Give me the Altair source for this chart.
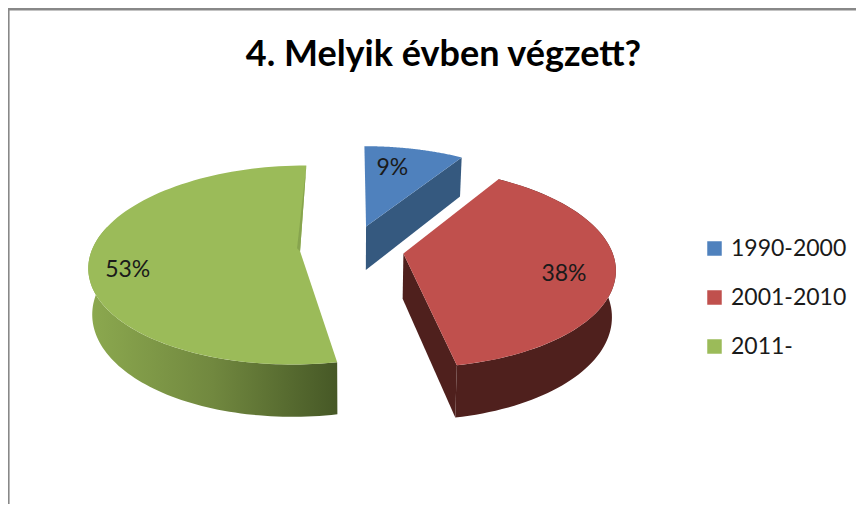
import altair as alt
import numpy as np

categories = ["1990-2000", "2001-2010", "2011-"]
shares = [9, 38, 53]
labels = ["9%", "38%", "53%"]
top_colors = ["#4F81BD", "#C0504D", "#9BBB59"]

# label placement inside each slice: angle (deg clockwise from 12 o'clock), radius fraction
label_theta = [12, 105.4, 256.6]
label_radius = [0.72, 0.766, 0.82]

# tilted-disc view of the exploded pie
X0, Y0 = 344.0, 241.0
A, B, P = 208.0, 97.0, 0.137
EXPLODE, DEPTH, SHRINK = 0.25, 45.0, 0.985


def view(X, Y, low=False):
    d = 1 + P * Y
    sx = A * X / d
    sy = -B * Y / d
    if low:
        sx *= SHRINK
        sy += DEPTH / d
    return [float(X0 + sx), float(Y0 + sy)]


def polar(t, r=1.0):
    return r * np.sin(np.radians(t)), r * np.cos(np.radians(t))


def feature(ring, **props):
    ring = list(ring) + [ring[0]]
    return {"type": "Feature", "properties": props,
            "geometry": {"type": "Polygon", "coordinates": [ring]}}


edges = np.concatenate([[0], np.cumsum(shares)]) * 3.6
tops, labels_rows, walls = [], [], {}
apexes, corners = [], []
for i, cat in enumerate(categories):
    a0, a1 = edges[i], edges[i + 1]
    ox, oy = polar((a0 + a1) / 2, EXPLODE)
    ts = np.linspace(a0, a1, 90)
    arc_top = [view(ox + polar(t)[0], oy + polar(t)[1]) for t in ts]
    apex = view(ox, oy)
    tops.append(feature([apex] + arc_top, cat=cat))
    apexes.append(apex)
    corners.append((arc_top[0], arc_top[-1]))
    lx, ly = polar(label_theta[i], label_radius[i])
    px, py = view(ox + lx, oy + ly)
    labels_rows.append({"lon": px, "lat": py, "txt": labels[i]})
    walls[i] = (ox, oy, a0, a1)


def outer_wall(i, t0, t1):
    ox, oy = walls[i][:2]
    ts = np.linspace(t0, t1, 80)
    up = [view(ox + polar(t)[0], oy + polar(t)[1]) for t in ts]
    lo = [view(ox + polar(t)[0], oy + polar(t)[1], True) for t in ts]
    return feature(up + lo[::-1])


def radial_wall(i, t):
    ox, oy = walls[i][:2]
    ex, ey = polar(t)
    return feature([view(ox, oy), view(ox + ex, oy + ey),
                    view(ox + ex, oy + ey, True), view(ox, oy, True)])


identity = dict(type="identity", scale=1, translate=[0, 0])


def shapes(feats, **mark):
    return alt.Chart(alt.Data(values=feats)).mark_geoshape(**mark).project(**identity)


green_wall = shapes([outer_wall(2, edges[2], 285)], fill=alt.Gradient(
    gradient="linear", x1=0, x2=1, y1=0, y2=0,
    stops=[alt.GradientStop(offset=0, color="#8CA94F"),
           alt.GradientStop(offset=0.5, color="#71883F"),
           alt.GradientStop(offset=1, color="#465826")]), stroke=None)
red_walls = shapes([radial_wall(1, edges[2]), outer_wall(1, edges[1], edges[2])],
                   fill="#4F201D", stroke=None)
blue_wall = shapes([radial_wall(0, edges[1])], fill="#35597F", stroke=None)

top_faces = shapes(tops, stroke=None).encode(
    color=alt.Color("properties.cat:N",
                    scale=alt.Scale(domain=categories, range=top_colors),
                    legend=alt.Legend(title=None, orient="none", legendX=695, legendY=229,
                                      symbolType="square", symbolSize=210,
                                      symbolStrokeWidth=0, labelFont="Lato", labelFontSize=23,
                                      labelColor="#1a1a1a", rowPadding=25, labelOffset=5,
                                      labelLimit=200)))

ax, ay = apexes[2]
cx, cy = corners[2][1]
green_sliver = shapes([feature([[cx, cy], [ax, ay], [ax - 3, ay - 3]])],
                      fill="#87A44E", stroke=None)

label_marks = alt.Chart(alt.Data(values=labels_rows)).mark_text(
    font="Lato", fontSize=23, color="#1a1a1a", align="center", baseline="middle"
).encode(longitude="lon:Q", latitude="lat:Q", text="txt:N").project(**identity)

frame_left = alt.Chart(alt.Data(values=[{"a": 1}])).mark_rule(color="#888888", strokeWidth=1.6).encode(
    x=alt.value(0.8), y=alt.value(0), y2=alt.value(496))
frame_top = alt.Chart(alt.Data(values=[{"a": 1}])).mark_rule(color="#888888", strokeWidth=2.4).encode(
    y=alt.value(1.2), x=alt.value(0), x2=alt.value(848))

chart = alt.layer(frame_left, frame_top, green_wall, red_walls, blue_wall, top_faces,
                  green_sliver, label_marks).properties(
    width=848, height=496, padding=0,
    autosize=alt.AutoSizeParams(type="none"),
    title=alt.Title("4. Melyik évben végzett?", anchor="start", font="Lato", fontSize=36,
                    fontWeight="bold", color="#000000", dx=239, dy=67, offset=0),
).configure_view(stroke=None).configure(background="white")

chart.save("out.html", embed_options={"renderer": "svg", "actions": False})
